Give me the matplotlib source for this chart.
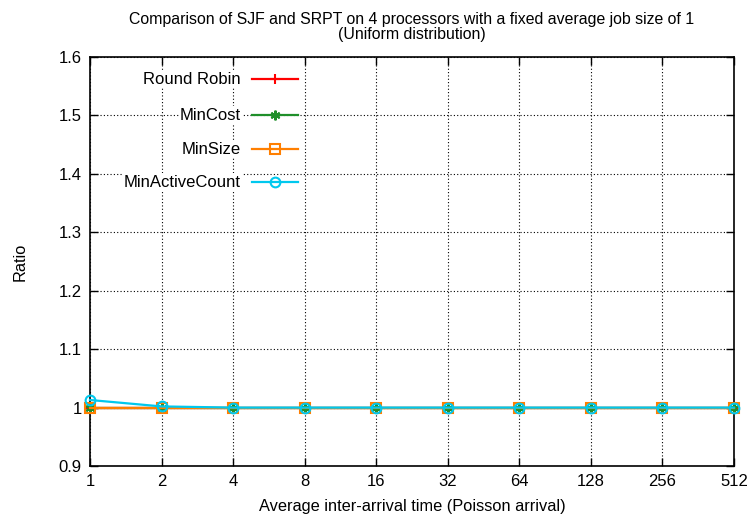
import matplotlib
matplotlib.use('Agg')
import matplotlib.pyplot as plt

plt.rcParams['font.family'] = ['Liberation Sans', 'DejaVu Sans']

# inter-arrival times (log2 axis)
arrival = [1, 2, 4, 8, 16, 32, 64, 128, 256, 512]
x_labels = ['1', '2', '4', '8', '16', '32', '64', '128', '256', '512']

round_robin = [1.0, 1.0, 1.0, 1.0, 1.0, 1.0, 1.0, 1.0, 1.0, 1.0]
min_cost = [1.0, 1.0, 1.0, 1.0, 1.0, 1.0, 1.0, 1.0, 1.0, 1.0]
min_size = [1.0, 1.0, 1.0, 1.0, 1.0, 1.0, 1.0, 1.0, 1.0, 1.0]
min_active = [1.013, 1.002, 1.0, 1.0, 1.0, 1.0, 1.0, 1.0, 1.0, 1.0]

y_ticks = [0.9, 1.0, 1.1, 1.2, 1.3, 1.4, 1.5, 1.6]
y_labels = ['0.9', '1', '1.1', '1.2', '1.3', '1.4', '1.5', '1.6']

series = [
    ('Round Robin', round_robin, '#ff0000', '+', 'full'),
    ('MinCost', min_cost, '#1f8f2a', (6, 2, 0), 'full'),
    ('MinSize', min_size, '#ff7f00', 's', 'none'),
    ('MinActiveCount', min_active, '#00c8ee', 'o', 'none'),
]

fig = plt.figure(figsize=(7.51, 5.20), dpi=100)
ax = fig.add_axes([0.1198, 0.1038, 0.8576, 0.7866])

for name, vals, col, mk, fill in series:
    ax.plot(arrival, vals, color=col, lw=1.6, marker=mk, markersize=7,
            fillstyle=fill, markeredgewidth=1.5, clip_on=False, zorder=3)

ax.set_xscale('log', base=2)
ax.set_xlim(1, 512)
ax.set_ylim(0.9, 1.6)
ax.set_xticks(arrival)
ax.set_xticklabels(x_labels)
ax.minorticks_off()
ax.set_yticks(y_ticks)
ax.set_yticklabels(y_labels)
ax.tick_params(direction='in', length=6, width=1, top=True, right=True,
               labelsize=12, pad=6)
ax.grid(True, color='black', linestyle=(0, (1, 2)), linewidth=0.8)
for s in ax.spines.values():
    s.set_linewidth(1.2)

ax.set_xlabel('Average inter-arrival time (Poisson arrival)', fontsize=11.8, labelpad=7)
ax.set_ylabel('Ratio', fontsize=11.8, labelpad=22)
ax.set_title('Comparison of SJF and SRPT on 4 processors with a fixed average job size of 1\n'
             '(Uniform distribution)', fontsize=11.4, pad=13, linespacing=1.0)

# key in the upper left, text right-aligned before the sample
key_y = [0.946, 0.858, 0.775, 0.694]
for (name, vals, col, mk, fill), ky in zip(series, key_y):
    ax.text(0.2345, ky, name, transform=ax.transAxes, ha='right', va='center',
            fontsize=12, zorder=5,
            bbox=dict(facecolor='white', edgecolor='none', pad=1))
    ax.plot([0.2516, 0.323], [ky, ky], transform=ax.transAxes, color=col, lw=1.6,
            zorder=5)
    ax.plot([0.2873], [ky], transform=ax.transAxes, color=col, marker=mk,
            markersize=7, fillstyle=fill, markeredgewidth=1.5, zorder=5)

plt.savefig('out.png', dpi=100)
